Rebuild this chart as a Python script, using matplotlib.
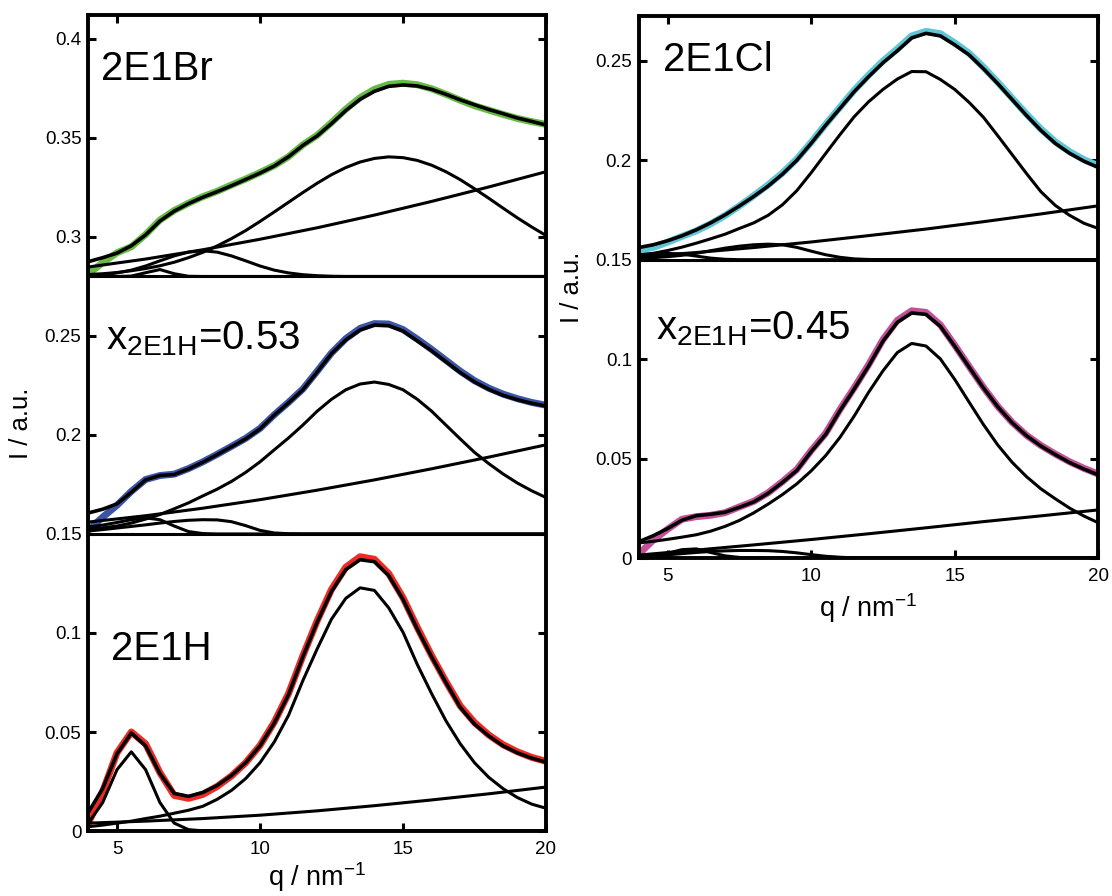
import matplotlib
matplotlib.use("Agg")
import matplotlib.pyplot as plt
import numpy as np
from matplotlib.ticker import FuncFormatter

plt.rcParams["font.family"] = ["Liberation Sans", "DejaVu Sans"]
plt.rcParams["mathtext.fontset"] = "custom"
plt.rcParams["mathtext.rm"] = "Liberation Sans"
plt.rcParams["mathtext.default"] = "regular"

# scattering vector grid (nm^-1) shared by all measured curves and fit components
q = np.arange(4.0, 20.5, 0.5)
# coarser grid for the sloping backgrounds
q_bg = [4, 6, 8, 10, 12, 14, 16, 18, 20]

# ---- 2E1Br (stacked, offset 0.28) ----
br_data = [0.2813, 0.2870, 0.2920, 0.2950, 0.3012, 0.3085, 0.3133, 0.3170, 0.3203,
           0.3230, 0.3262, 0.3292, 0.3325, 0.3360, 0.3405, 0.3465, 0.3513, 0.3577,
           0.3645, 0.3703, 0.3745, 0.3770, 0.3776, 0.3768, 0.3748, 0.3720, 0.3690,
           0.3662, 0.3640, 0.3618, 0.3598, 0.3582, 0.3568]
br_fit = [0.2875, 0.2895, 0.2918, 0.2955, 0.3010, 0.3080, 0.3130, 0.3168, 0.3200,
          0.3228, 0.3258, 0.3290, 0.3322, 0.3358, 0.3405, 0.3462, 0.3510, 0.3572,
          0.3638, 0.3695, 0.3735, 0.3760, 0.3767, 0.3762, 0.3745, 0.3720, 0.3692,
          0.3667, 0.3643, 0.3622, 0.3600, 0.3583, 0.3565]
br_main = [0.2810, 0.2814, 0.2820, 0.2829, 0.2840, 0.2854, 0.2872, 0.2895, 0.2922,
           0.2954, 0.2991, 0.3032, 0.3078, 0.3126, 0.3175, 0.3224, 0.3271, 0.3314,
           0.3350, 0.3378, 0.3396, 0.3404, 0.3400, 0.3386, 0.3362, 0.3329, 0.3289,
           0.3243, 0.3195, 0.3145, 0.3096, 0.3050, 0.3007]
br_peak1 = [0.2804, 0.2809, 0.2818, 0.2832, 0.2853, 0.2879, 0.2904, 0.2923, 0.2930,
            0.2923, 0.2904, 0.2879, 0.2853, 0.2832, 0.2818, 0.2809, 0.2804, 0.2801,
            0.2800, 0.2800, 0.2800, 0.2800, 0.2800, 0.2800, 0.2800, 0.2800, 0.2800,
            0.2800, 0.2800, 0.2800, 0.2800, 0.2800, 0.2800]
br_peak2 = [0.2800, 0.2800, 0.2800, 0.2802, 0.2819, 0.2835, 0.2814, 0.2801, 0.2800,
            0.2800, 0.2800, 0.2800, 0.2800, 0.2800, 0.2800, 0.2800, 0.2800, 0.2800,
            0.2800, 0.2800, 0.2800, 0.2800, 0.2800, 0.2800, 0.2800, 0.2800, 0.2800,
            0.2800, 0.2800, 0.2800, 0.2800, 0.2800, 0.2800]
br_bg = [0.2848, 0.2888, 0.2935, 0.2988, 0.3046, 0.3110, 0.3179, 0.3252, 0.3329]

# ---- mixture x(2E1H) = 0.53 (offset 0.15) ----
m53_data = [0.1520, 0.1585, 0.1645, 0.1715, 0.1775, 0.1795, 0.1802, 0.1830, 0.1864,
            0.1902, 0.1942, 0.1983, 0.2033, 0.2102, 0.2165, 0.2232, 0.2322, 0.2414,
            0.2486, 0.2538, 0.2562, 0.2560, 0.2532, 0.2484, 0.2432, 0.2377, 0.2322,
            0.2274, 0.2236, 0.2206, 0.2183, 0.2164, 0.2150]
m53_fit = [0.1606, 0.1625, 0.1652, 0.1710, 0.1773, 0.1795, 0.1800, 0.1828, 0.1862,
           0.1900, 0.1940, 0.1980, 0.2030, 0.2100, 0.2162, 0.2228, 0.2318, 0.2410,
           0.2480, 0.2530, 0.2555, 0.2552, 0.2525, 0.2475, 0.2425, 0.2370, 0.2315,
           0.2268, 0.2230, 0.2200, 0.2178, 0.2160, 0.2146]
m53_main = [0.1524, 0.1531, 0.1540, 0.1555, 0.1575, 0.1598, 0.1627, 0.1657, 0.1692,
            0.1726, 0.1765, 0.1811, 0.1864, 0.1925, 0.1985, 0.2050, 0.2120, 0.2180,
            0.2228, 0.2257, 0.2267, 0.2255, 0.2228, 0.2180, 0.2120, 0.2050, 0.1980,
            0.1912, 0.1855, 0.1803, 0.1757, 0.1718, 0.1684]
m53_peak1 = [0.1515, 0.1522, 0.1530, 0.1538, 0.1546, 0.1555, 0.1563, 0.1569, 0.1572,
             0.1571, 0.1562, 0.1542, 0.1518, 0.1505, 0.1501, 0.1500, 0.1500, 0.1500,
             0.1500, 0.1500, 0.1500, 0.1500, 0.1500, 0.1500, 0.1500, 0.1500, 0.1500,
             0.1500, 0.1500, 0.1500, 0.1500, 0.1500, 0.1500]
m53_peak2 = [0.1535, 0.1545, 0.1558, 0.1572, 0.1581, 0.1572, 0.1540, 0.1512, 0.1502,
             0.1500, 0.1500, 0.1500, 0.1500, 0.1500, 0.1500, 0.1500, 0.1500, 0.1500,
             0.1500, 0.1500, 0.1500, 0.1500, 0.1500, 0.1500, 0.1500, 0.1500, 0.1500,
             0.1500, 0.1500, 0.1500, 0.1500, 0.1500, 0.1500]
m53_bg = [0.1560, 0.1592, 0.1630, 0.1673, 0.1721, 0.1773, 0.1829, 0.1888, 0.1950]

# ---- pure 2E1H (offset 0) ----
h_data = [0.0040, 0.0200, 0.0395, 0.0500, 0.0440, 0.0295, 0.0180, 0.0165, 0.0185,
          0.0225, 0.0278, 0.0345, 0.0432, 0.0550, 0.0695, 0.0885, 0.1062, 0.1220,
          0.1332, 0.1385, 0.1372, 0.1300, 0.1178, 0.1028, 0.0886, 0.0755, 0.0632,
          0.0548, 0.0485, 0.0436, 0.0400, 0.0372, 0.0352]
h_fit = [0.0095, 0.0215, 0.0390, 0.0495, 0.0430, 0.0290, 0.0190, 0.0175, 0.0195,
         0.0230, 0.0280, 0.0345, 0.0430, 0.0545, 0.0690, 0.0880, 0.1055, 0.1210,
         0.1320, 0.1370, 0.1360, 0.1290, 0.1170, 0.1020, 0.0880, 0.0750, 0.0625,
         0.0540, 0.0480, 0.0430, 0.0395, 0.0368, 0.0348]
h_main = [0.0022, 0.0030, 0.0040, 0.0050, 0.0063, 0.0075, 0.0090, 0.0105, 0.0125,
          0.0160, 0.0205, 0.0265, 0.0345, 0.0450, 0.0585, 0.0760, 0.0920, 0.1070,
          0.1175, 0.1228, 0.1215, 0.1127, 0.1004, 0.0841, 0.0694, 0.0557, 0.0441,
          0.0345, 0.0271, 0.0214, 0.0169, 0.0136, 0.0115]
h_peak = [0.0040, 0.0144, 0.0310, 0.0400, 0.0310, 0.0144, 0.0040, 0.0007, 0.0001,
          0.0, 0.0, 0.0, 0.0, 0.0, 0.0, 0.0, 0.0, 0.0, 0.0, 0.0, 0.0, 0.0, 0.0, 0.0,
          0.0, 0.0, 0.0, 0.0, 0.0, 0.0, 0.0, 0.0, 0.0]
h_bg = [0.0040, 0.0050, 0.0063, 0.0080, 0.0102, 0.0128, 0.0157, 0.0188, 0.0222]

# ---- 2E1Cl (offset 0.15) ----
cl_data = [0.1545, 0.1562, 0.1588, 0.1617, 0.1645, 0.1680, 0.1722, 0.1770, 0.1822,
           0.1876, 0.1936, 0.2006, 0.2090, 0.2180, 0.2266, 0.2352, 0.2428, 0.2499,
           0.2560, 0.2625, 0.2648, 0.2636, 0.2590, 0.2538, 0.2468, 0.2392, 0.2312,
           0.2232, 0.2157, 0.2093, 0.2043, 0.2003, 0.1972]
cl_fit = [0.1561, 0.1575, 0.1595, 0.1620, 0.1650, 0.1685, 0.1725, 0.1770, 0.1818,
          0.1870, 0.1930, 0.2000, 0.2085, 0.2175, 0.2260, 0.2345, 0.2420, 0.2490,
          0.2550, 0.2615, 0.2638, 0.2625, 0.2580, 0.2530, 0.2460, 0.2385, 0.2305,
          0.2225, 0.2150, 0.2085, 0.2035, 0.1995, 0.1964]
cl_main = [0.1522, 0.1532, 0.1546, 0.1563, 0.1583, 0.1605, 0.1628, 0.1657, 0.1685,
           0.1723, 0.1776, 0.1847, 0.1937, 0.2033, 0.2128, 0.2219, 0.2294, 0.2356,
           0.2408, 0.2446, 0.2445, 0.2406, 0.2356, 0.2291, 0.2216, 0.2123, 0.2028,
           0.1933, 0.1842, 0.1773, 0.1723, 0.1683, 0.1657]
cl_peak1 = [0.1505, 0.1510, 0.1515, 0.1522, 0.1532, 0.1545, 0.1558, 0.1568, 0.1575,
            0.1578, 0.1575, 0.1562, 0.1543, 0.1525, 0.1512, 0.1504, 0.1501, 0.1500,
            0.1500, 0.1500, 0.1500, 0.1500, 0.1500, 0.1500, 0.1500, 0.1500, 0.1500,
            0.1500, 0.1500, 0.1500, 0.1500, 0.1500, 0.1500]
cl_peak2 = [0.1525, 0.1530, 0.1532, 0.1528, 0.1518, 0.1508, 0.1502, 0.1500, 0.1500,
            0.1500, 0.1500, 0.1500, 0.1500, 0.1500, 0.1500, 0.1500, 0.1500, 0.1500,
            0.1500, 0.1500, 0.1500, 0.1500, 0.1500, 0.1500, 0.1500, 0.1500, 0.1500,
            0.1500, 0.1500, 0.1500, 0.1500, 0.1500, 0.1500]
cl_bg = [0.1515, 0.1536, 0.1561, 0.1589, 0.1621, 0.1654, 0.1691, 0.1730, 0.1771]

# ---- mixture x(2E1H) = 0.45 (offset 0) ----
m45_data = [0.0020, 0.0090, 0.0145, 0.0195, 0.0208, 0.0215, 0.0228, 0.0257, 0.0285,
            0.0328, 0.0384, 0.0445, 0.0540, 0.0626, 0.0746, 0.0856, 0.0972, 0.1098,
            0.1195, 0.1243, 0.1235, 0.1172, 0.1070, 0.0963, 0.0858, 0.0762, 0.0682,
            0.0617, 0.0566, 0.0523, 0.0484, 0.0451, 0.0422]
m45_fit = [0.0082, 0.0112, 0.0148, 0.0190, 0.0213, 0.0220, 0.0230, 0.0255, 0.0282,
           0.0325, 0.0380, 0.0440, 0.0535, 0.0620, 0.0740, 0.0850, 0.0965, 0.1090,
           0.1185, 0.1232, 0.1225, 0.1165, 0.1065, 0.0960, 0.0855, 0.0760, 0.0680,
           0.0615, 0.0563, 0.0520, 0.0480, 0.0447, 0.0418]
m45_main = [0.0076, 0.0084, 0.0094, 0.0105, 0.0117, 0.0135, 0.0159, 0.0189, 0.0227,
            0.0271, 0.0319, 0.0373, 0.0438, 0.0514, 0.0606, 0.0714, 0.0833, 0.0941,
            0.1033, 0.1079, 0.1066, 0.1001, 0.0898, 0.0784, 0.0671, 0.0568, 0.0481,
            0.0409, 0.0348, 0.0298, 0.0251, 0.0211, 0.0177]
m45_peak1 = [0.0003, 0.0011, 0.0024, 0.0042, 0.0046, 0.0028, 0.0011, 0.0003, 0.0,
             0.0, 0.0, 0.0, 0.0, 0.0, 0.0, 0.0, 0.0, 0.0, 0.0, 0.0, 0.0, 0.0, 0.0,
             0.0, 0.0, 0.0, 0.0, 0.0, 0.0, 0.0, 0.0, 0.0, 0.0]
m45_peak2 = [0.0005, 0.0010, 0.0016, 0.0022, 0.0028, 0.0033, 0.0036, 0.0038, 0.0038,
             0.0037, 0.0033, 0.0026, 0.0017, 0.0009, 0.0004, 0.0001, 0.0, 0.0, 0.0,
             0.0, 0.0, 0.0, 0.0, 0.0, 0.0, 0.0, 0.0, 0.0, 0.0, 0.0, 0.0, 0.0, 0.0]
m45_bg = [0.0015, 0.0040, 0.0066, 0.0093, 0.0122, 0.0152, 0.0183, 0.0212, 0.0242]

left_offsets = [0.28, 0.15]
right_offsets = [0.15]

GREEN = "#66bb44"
BLUE = "#3a55a6"
RED = "#ee2a24"
CYAN = "#5ec6d6"
MAGENTA = "#c4509a"


def draw_set(ax, data, fit, comps, bg, color):
    ax.plot(q, data, color=color, lw=5.0, solid_capstyle="round", zorder=2)
    for c in comps:
        ax.plot(q, c, color="k", lw=2.2, zorder=3)
    ax.plot(q_bg, bg, color="k", lw=2.2, zorder=3)
    ax.plot(q, fit, color="k", lw=2.6, zorder=4)


def style_axes(ax, ymax, yticks):
    ax.set_xlim(4, 20)
    ax.set_ylim(0, ymax)
    ax.set_xticks([5, 10, 15, 20])
    ax.set_yticks(yticks)
    ax.yaxis.set_major_formatter(FuncFormatter(lambda v, _: f"{v:g}"))
    ax.tick_params(direction="in", length=6, width=2.2, labelsize=13.5,
                   top=True, right=True, pad=5)
    ax.tick_params(axis="x", pad=7)
    for s in ax.spines.values():
        s.set_linewidth(2.8)
    ax.set_xlabel("q / nm$^{-1}$", fontsize=19.5, va="top")
    ax.set_ylabel("I / a.u.", fontsize=18.5, va="center")


fig = plt.figure(figsize=(11.12, 8.96), dpi=100)
ax_l = fig.add_axes([0.0795, 0.0725, 0.4115, 0.9107])
ax_r = fig.add_axes([0.5745, 0.3772, 0.4132, 0.6049])

draw_set(ax_l, br_data, br_fit, [br_main, br_peak1, br_peak2], br_bg, GREEN)
draw_set(ax_l, m53_data, m53_fit, [m53_main, m53_peak1, m53_peak2], m53_bg, BLUE)
draw_set(ax_l, h_data, h_fit, [h_main, h_peak], h_bg, RED)
for off in left_offsets:
    ax_l.axhline(off, color="k", lw=2.2, zorder=3)

draw_set(ax_r, cl_data, cl_fit, [cl_main, cl_peak1, cl_peak2], cl_bg, CYAN)
draw_set(ax_r, m45_data, m45_fit, [m45_main, m45_peak1, m45_peak2], m45_bg, MAGENTA)
for off in right_offsets:
    ax_r.axhline(off, color="k", lw=2.2, zorder=3)

style_axes(ax_l, 0.412, np.arange(0, 0.401, 0.05))
style_axes(ax_r, 0.2725, np.arange(0, 0.251, 0.05))
ax_l.yaxis.set_label_coords(-0.148, 0.5)
ax_r.yaxis.set_label_coords(-0.146, 0.5)
ax_l.xaxis.set_label_coords(0.5, -0.036)
ax_r.xaxis.set_label_coords(0.5, -0.062)

ax_l.text(4.45, 0.379, "2E1Br", fontsize=29)
ax_l.text(4.6, 0.243, r"x$_{2E1H}$=0.53", fontsize=29)
ax_l.text(4.8, 0.0864, "2E1H", fontsize=29)
ax_r.text(4.85, 0.245, "2E1Cl", fontsize=29)
ax_r.text(4.6, 0.11, r"x$_{2E1H}$=0.45", fontsize=29)

fig.savefig("out.png", dpi=100)
